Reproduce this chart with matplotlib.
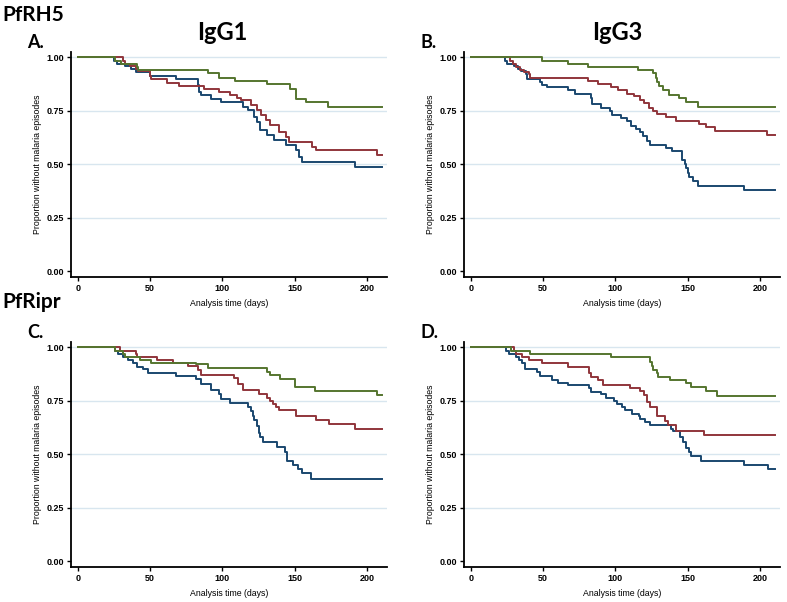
import matplotlib
matplotlib.use("Agg")
import matplotlib.pyplot as plt

# Kaplan-Meier step data: event times (days) and survival after each drop
A_blue_t = [25, 27, 33, 37, 40, 50, 68, 83, 84, 85, 92, 99, 114, 118, 122, 124, 126, 131, 136, 144, 151, 153, 155, 192]
A_blue_s = [0.985, 0.97, 0.96, 0.945, 0.93, 0.914, 0.898, 0.87, 0.84, 0.825, 0.805, 0.789, 0.769, 0.753, 0.722, 0.699, 0.66, 0.636, 0.613, 0.59, 0.566, 0.535, 0.511, 0.488]
A_red_t = [31, 33, 36, 40, 42, 50, 51, 62, 70, 87, 98, 105, 110, 113, 120, 124, 127, 130, 133, 139, 144, 146, 162, 165, 207]
A_red_s = [0.985, 0.97, 0.96, 0.945, 0.935, 0.915, 0.90, 0.88, 0.865, 0.85, 0.84, 0.825, 0.81, 0.80, 0.777, 0.753, 0.73, 0.706, 0.683, 0.652, 0.629, 0.605, 0.582, 0.566, 0.543]
A_green_t = [26, 30, 41, 42, 90, 98, 109, 131, 147, 151, 158, 173]
A_green_s = [0.985, 0.97, 0.955, 0.94, 0.925, 0.905, 0.889, 0.873, 0.852, 0.805, 0.789, 0.767]

B_blue_t = [24, 25, 30, 33, 35, 38, 39, 48, 49, 53, 67, 72, 83, 84, 90, 96, 98, 104, 108, 111, 114, 117, 119, 122, 124, 135, 139, 146, 148, 149, 150, 151, 154, 157, 189]
B_blue_s = [0.985, 0.97, 0.96, 0.945, 0.935, 0.92, 0.90, 0.885, 0.87, 0.86, 0.845, 0.83, 0.81, 0.78, 0.765, 0.75, 0.73, 0.715, 0.70, 0.68, 0.665, 0.65, 0.63, 0.61, 0.59, 0.575, 0.56, 0.52, 0.50, 0.48, 0.46, 0.44, 0.42, 0.40, 0.378]
B_red_t = [27, 29, 31, 34, 37, 40, 41, 81, 88, 97, 102, 108, 113, 117, 120, 123, 126, 129, 135, 142, 158, 163, 169, 205]
B_red_s = [0.985, 0.97, 0.955, 0.94, 0.93, 0.92, 0.905, 0.89, 0.875, 0.86, 0.845, 0.83, 0.82, 0.80, 0.785, 0.765, 0.75, 0.735, 0.72, 0.70, 0.69, 0.675, 0.655, 0.635]
B_green_t = [49, 67, 81, 116, 126, 128, 129, 130, 133, 137, 144, 149, 157]
B_green_s = [0.985, 0.97, 0.955, 0.94, 0.925, 0.905, 0.885, 0.865, 0.845, 0.825, 0.81, 0.79, 0.767]

C_blue_t = [25.8, 28.1, 31.6, 35, 38.5, 40.8, 45.4, 48.8, 68, 82, 85, 92, 98, 99, 105, 118, 120, 121, 122, 124, 125, 126, 128, 138, 143, 145, 149, 152, 155, 161]
C_blue_s = [0.985, 0.97, 0.955, 0.94, 0.925, 0.91, 0.90, 0.88, 0.865, 0.85, 0.83, 0.80, 0.78, 0.76, 0.74, 0.72, 0.70, 0.68, 0.66, 0.63, 0.60, 0.58, 0.555, 0.535, 0.51, 0.47, 0.45, 0.43, 0.41, 0.385]
C_red_t = [29, 40, 41, 55, 66, 76, 83, 85, 108, 111, 114, 125, 131, 133, 135, 137, 139, 151, 165, 174, 192]
C_red_s = [0.985, 0.97, 0.955, 0.94, 0.925, 0.915, 0.895, 0.87, 0.855, 0.83, 0.80, 0.78, 0.765, 0.75, 0.735, 0.72, 0.705, 0.68, 0.66, 0.64, 0.62]
C_green_t = [26, 31, 33, 43, 51, 82, 90, 131, 133, 140, 150, 164, 207]
C_green_s = [0.985, 0.97, 0.955, 0.94, 0.925, 0.92, 0.905, 0.885, 0.87, 0.85, 0.815, 0.795, 0.775]

D_blue_t = [24.3, 26.5, 31.1, 33.3, 35.6, 37.9, 45.8, 48.1, 56, 60.5, 67.3, 82.1, 83.2, 90, 93.4, 99.1, 101.4, 104.8, 107, 111.6, 116.1, 117.2, 120.6, 124, 138.8, 139.9, 144.4, 146.7, 149, 151.2, 152.4, 159.2, 188.7, 205.7]
D_blue_s = [0.985, 0.97, 0.955, 0.94, 0.925, 0.90, 0.885, 0.865, 0.845, 0.835, 0.825, 0.81, 0.79, 0.78, 0.765, 0.75, 0.735, 0.72, 0.705, 0.69, 0.68, 0.665, 0.65, 0.635, 0.62, 0.61, 0.58, 0.555, 0.53, 0.51, 0.49, 0.47, 0.45, 0.43]
D_red_t = [29.9, 31.1, 35.6, 40.1, 49.2, 67.3, 82.1, 83.2, 87.8, 91.2, 110.4, 117.2, 119.5, 121.8, 124, 128.6, 134.2, 136.5, 142.2, 161.5]
D_red_s = [0.985, 0.97, 0.955, 0.94, 0.925, 0.91, 0.88, 0.86, 0.845, 0.825, 0.81, 0.795, 0.775, 0.745, 0.72, 0.68, 0.655, 0.635, 0.61, 0.59]
D_green_t = [27.7, 41.3, 96.8, 124, 125.2, 126.3, 128.6, 129.7, 137.6, 149, 152.4, 162.6, 170.5]
D_green_s = [0.985, 0.97, 0.953, 0.933, 0.915, 0.894, 0.878, 0.863, 0.847, 0.832, 0.813, 0.797, 0.774]

follow_up_end = 210
x_ticks = [0, 50, 100, 150, 200]
y_ticks = [0.0, 0.25, 0.5, 0.75, 1.0]
y_tick_labels = ["0.00", "0.25", "0.50", "0.75", "1.00"]

panels = {
    "A.": [(A_blue_t, A_blue_s), (A_red_t, A_red_s), (A_green_t, A_green_s)],
    "B.": [(B_blue_t, B_blue_s), (B_red_t, B_red_s), (B_green_t, B_green_s)],
    "C.": [(C_blue_t, C_blue_s), (C_red_t, C_red_s), (C_green_t, C_green_s)],
    "D.": [(D_blue_t, D_blue_s), (D_red_t, D_red_s), (D_green_t, D_green_s)],
}

# stata s2color navy / maroon / forest green
colors = ["#1a476f", "#90353b", "#55752f"]

W, H = 787, 602
fig = plt.figure(figsize=(W / 100, H / 100), dpi=100)

# axes boxes in pixels: left, top, right, bottom
boxes = {
    "A.": (71, 52, 387, 277),
    "B.": (464, 52, 780, 277),
    "C.": (71, 342, 387, 567),
    "D.": (464, 342, 780, 567),
}

small_font = "Liberation Sans"
title_font = ["Lato", "DejaVu Sans"]

for name, curves in panels.items():
    l, t, r, b = boxes[name]
    ax = fig.add_axes([l / W, 1 - b / H, (r - l) / W, (b - t) / H])
    for (times, surv), col in zip(curves, colors):
        xs = [0] + list(times) + [follow_up_end]
        ys = [1.0] + list(surv) + [surv[-1]]
        ax.step(xs, ys, where="post", color=col, lw=1.4)

    ax.set_xlim(-4.6, 213.8)
    ax.set_ylim(-0.028, 1.025)
    ax.set_xticks(x_ticks)
    ax.set_yticks(y_ticks)
    ax.set_yticklabels(y_tick_labels)
    for lab in ax.get_xticklabels() + ax.get_yticklabels():
        lab.set_fontfamily(small_font)
        lab.set_fontsize(6.5)
        lab.set_fontweight("bold")
    ax.tick_params(direction="out", length=3, width=1.0, pad=2, colors="black")
    ax.yaxis.grid(True, color="#d8e6ef", lw=1.0)
    ax.get_ygridlines()[0].set_visible(False)
    ax.set_axisbelow(True)
    for side in ["top", "right"]:
        ax.spines[side].set_visible(False)
    for side in ["left", "bottom"]:
        ax.spines[side].set_linewidth(1.3)
    ax.set_xlabel("Analysis time (days)", fontfamily=small_font, fontsize=6.3, labelpad=4)
    ax.set_ylabel("Proportion without malaria episodes", fontfamily=small_font, fontsize=6.3, labelpad=3)

    fig.text((l - 44) / W, 1 - (t - 9) / H, name, fontsize=13, fontweight="bold",
             family=title_font, va="center", ha="left")

fig.text(2 / W, 1 - 15 / H, "PfRH5", fontsize=15, fontweight="bold", family=title_font,
         va="center", ha="left")
fig.text(2 / W, 1 - 302 / H, "PfRipr", fontsize=15, fontweight="bold", family=title_font,
         va="center", ha="left")
fig.text(222 / W, 1 - 33 / H, "IgG1", fontsize=17, fontweight="bold", family=title_font,
         va="center", ha="center")
fig.text(617 / W, 1 - 33 / H, "IgG3", fontsize=17, fontweight="bold", family=title_font,
         va="center", ha="center")

fig.savefig("out.png", dpi=100, facecolor="white")
